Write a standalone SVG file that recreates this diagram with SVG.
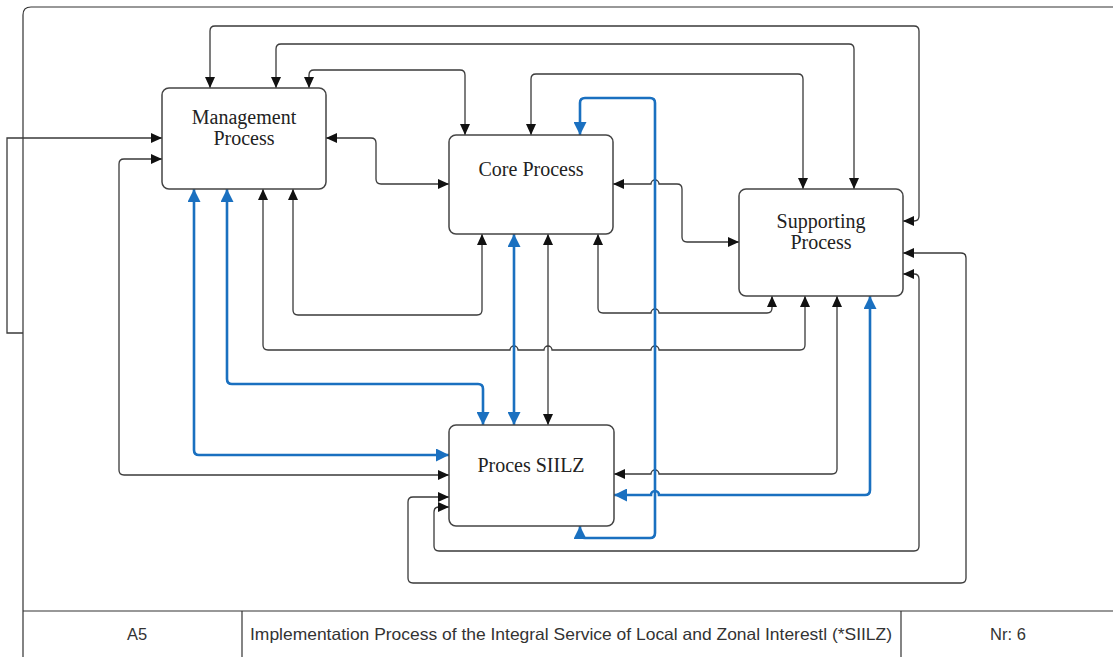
<svg xmlns="http://www.w3.org/2000/svg" width="1113" height="657" viewBox="0 0 1113 657">
  <style>
    .node rect { fill: #ffffff; stroke: #444444; stroke-width: 1.5; }
    .label { font-family: "Liberation Serif", "Times New Roman", serif; font-size: 20px; fill: #222222; text-anchor: middle; }
    .foot { font-family: "Liberation Sans", Arial, sans-serif; font-size: 16.5px; fill: #333333; text-anchor: middle; }
    .frame { fill: none; stroke: #333333; stroke-width: 1.2; }
    .link { fill: none; stroke: #3a3a3a; stroke-width: 1.3; }
    .two { marker-start: url(#ah); marker-end: url(#ah); }
    .one { marker-end: url(#ah); }
    .blue { fill: none; stroke: #1a70c0; stroke-width: 2.6; marker-start: url(#bh); marker-end: url(#bh); }
  </style>
  <defs>
    <marker id="ah" viewBox="0 0 11 11" refX="11" refY="5.5" markerWidth="11" markerHeight="11" markerUnits="userSpaceOnUse" orient="auto-start-reverse">
      <path d="M0,0.5 L11,5.5 L0,10.5 z" fill="#111111"/>
    </marker>
    <marker id="bh" viewBox="0 0 13 13" refX="13" refY="6.5" markerWidth="13" markerHeight="13" markerUnits="userSpaceOnUse" orient="auto-start-reverse">
      <path d="M0,0 L13,6.5 L0,13 z" fill="#1a70c0"/>
    </marker>
  </defs>

  <rect width="1113" height="657" fill="#ffffff"/>

  <!-- outer frame and title block -->
  <g id="frame">
    <path class="frame" d="M23,657 L23,15 Q23,7 31,7 L1113,7"/>
    <line class="frame" x1="23" y1="611" x2="1113" y2="611"/>
    <line class="frame" x1="242" y1="611" x2="242" y2="657"/>
    <line class="frame" x1="901" y1="611" x2="901" y2="657"/>
    <text class="foot" x="137" y="640">A5</text>
    <text class="foot" x="571" y="640" textLength="642" lengthAdjust="spacingAndGlyphs">Implementation Process of the Integral Service of Local and Zonal Interestl (*SIILZ)</text>
    <text class="foot" x="1008" y="640">Nr: 6</text>
  </g>

  <!-- connectors -->
  <g id="connectors">
    <path class="link two" d="M903,221 L914,221 Q919,221 919,216 L919,31 Q919,26 914,26 L215,26 Q210,26 210,31 L210,88"/>
    <path class="link two" d="M854,189 L854,49 Q854,44 849,44 L281,44 Q276,44 276,49 L276,88"/>
    <path class="link two" d="M465,135 L465,75 Q465,70 460,70 L314,70 Q309,70 309,75 L309,88"/>
    <path class="link two" d="M803,189 L803,79 Q803,74 798,74 L536,74 Q531,74 531,79 L531,135"/>
    <path class="link two" d="M326,138 L371,138 Q376,138 376,143 L376,179 Q376,184 381,184 L449,184"/>
    <path class="link two" d="M613,184 L651,184 A4,4 0 0 1 659,184 L677,184 Q682,184 682,189 L682,237 Q682,242 687,242 L739,242"/>
    <path class="link one" d="M23,333 L7,333 L7,138 L162,138"/>
    <path class="link two" d="M162,159 L124,159 Q119,159 119,164 L119,470 Q119,475 124,475 L449,475"/>
    <path class="link two" d="M263,189 L263,345 Q263,350 268,350 L510,350 A4,4 0 0 1 518,350 L544,350 A4,4 0 0 1 552,350 L651,350 A4,4 0 0 1 659,350 L800,350 Q805,350 805,345 L805,296"/>
    <path class="link two" d="M293,189 L293,310 Q293,315 298,315 L477,315 Q482,315 482,310 L482,234"/>
    <path class="link two" d="M548,234 L548,425"/>
    <path class="link two" d="M598,234 L598,308 Q598,313 603,313 L651,313 A4,4 0 0 1 659,313 L767,313 Q772,313 772,308 L772,296"/>
    <path class="link two" d="M837,296 L837,469 Q837,474 832,474 L659,474 A4,4 0 0 0 651,474 L614,474"/>
    <path class="link two" d="M903,253 L961,253 Q966,253 966,258 L966,578 Q966,583 961,583 L413,583 Q408,583 408,578 L408,502 Q408,497 413,497 L449,497"/>
    <path class="link two" d="M903,274 L914,274 Q919,274 919,279 L919,546 Q919,551 914,551 L439,551 Q434,551 434,546 L434,512 Q434,507 439,507 L449,507"/>
    <!-- highlighted SIILZ flows -->
    <path class="blue" d="M580,135 L580,103 Q580,98 585,98 L650,98 Q655,98 655,103 L655,533 Q655,538 650,538 L585,538 Q580,538 580,533 L580,526"/>
    <path class="blue" d="M194,189 L194,450 Q194,455 199,455 L449,455"/>
    <path class="blue" d="M227,189 L227,379 Q227,384 232,384 L478,384 Q483,384 483,389 L483,425"/>
    <path class="blue" d="M514,234 L514,425"/>
    <path class="blue" d="M870,296 L870,490 Q870,495 865,495 L659,495 A4,4 0 0 0 651,495 L614,495"/>
  </g>

  <!-- process nodes -->
  <g id="management" class="node">
    <rect x="162" y="88" width="164" height="101" rx="7"/>
    <text class="label" x="244" y="124">Management</text>
    <text class="label" x="244" y="145">Process</text>
  </g>
  <g id="core" class="node">
    <rect x="449" y="135" width="164" height="99" rx="7"/>
    <text class="label" x="531" y="176">Core Process</text>
  </g>
  <g id="supporting" class="node">
    <rect x="739" y="189" width="164" height="107" rx="7"/>
    <text class="label" x="821" y="228">Supporting</text>
    <text class="label" x="821" y="249">Process</text>
  </g>
  <g id="siilz" class="node">
    <rect x="449" y="425" width="165" height="101" rx="7"/>
    <text class="label" x="531" y="472">Proces SIILZ</text>
  </g>
</svg>
